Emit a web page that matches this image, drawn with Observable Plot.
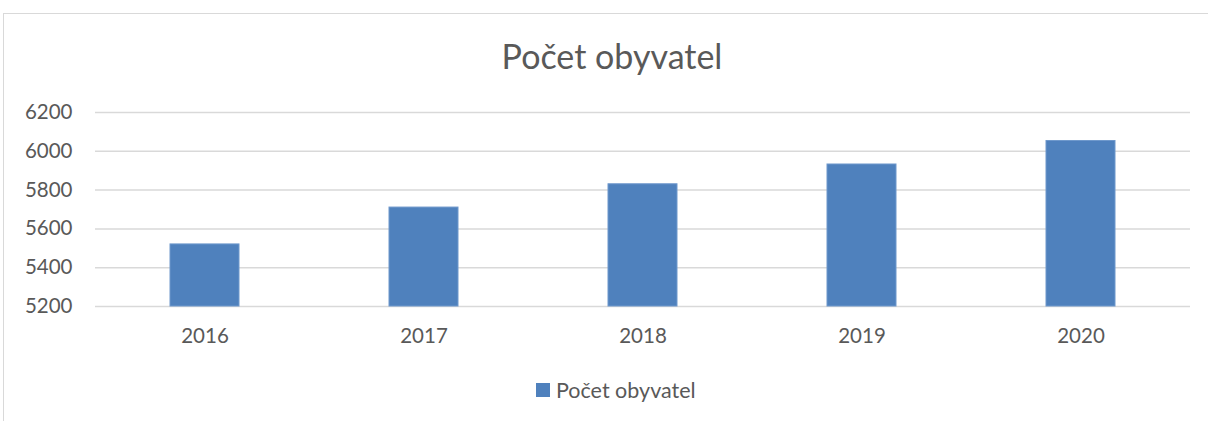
<!DOCTYPE html>
<html><head><meta charset="utf-8">
<script src="https://cdn.jsdelivr.net/npm/d3@7"></script>
<script src="https://cdn.jsdelivr.net/npm/@observablehq/plot@0.6"></script>
<style>
body{margin:0;background:#fff;font-family:Lato,"Open Sans",sans-serif;}
#frame{position:absolute;left:3px;top:13px;width:1300px;height:500px;border-left:1px solid #d9d9d9;border-top:1px solid #d9d9d9;}
#title{position:absolute;left:0;width:1224px;top:35px;text-align:center;font-size:34px;color:#595959;}
#chart{position:absolute;left:0;top:90px;}
#legend{position:absolute;left:536px;top:377px;font-size:21.5px;color:#595959;display:flex;align-items:center;}
#legend span.sw{display:inline-block;width:14px;height:14px;background:#4f81bd;margin-right:6px;}
</style></head><body>
<div id="frame"></div>
<div id="title">Počet obyvatel</div>
<div id="chart"></div>
<div id="legend"><span class="sw"></span><span>Počet obyvatel</span></div>
<script>
const years = ["2016","2017","2018","2019","2020"];
const population = [5520, 5710, 5830, 5932, 6053];
const yTicks = [5200, 5400, 5600, 5800, 6000, 6200];
const seriesName = "Počet obyvatel";

const data = years.map((y, i) => ({year: y, value: population[i]}));
const base = yTicks[0];

const chart = Plot.plot({
  width: 1208,
  height: 270,
  marginLeft: 95,
  marginRight: 18,
  marginTop: 22,
  marginBottom: 54,
  style: {fontFamily: "Lato, 'Open Sans', sans-serif", fontSize: "20.5px", color: "#595959", background: "transparent"},
  x: {domain: years, paddingInner: 0.685, paddingOuter: 0.3425, label: null, tickSize: 0, tickPadding: 22},
  y: {domain: [yTicks[0], yTicks[yTicks.length-1]], ticks: yTicks, tickFormat: d3.format("d"), label: null, tickSize: 0, tickPadding: 23},
  marks: [
    Plot.ruleY(yTicks, {stroke: "#d9d9d9", strokeWidth: 1.5}),
    Plot.barY(data, {x: "year", y1: base, y2: "value", fill: "#4f81bd", stroke: "#6f98cc", strokeWidth: 1})
  ]
});
document.getElementById("chart").appendChild(chart);
</script>
</body></html>
